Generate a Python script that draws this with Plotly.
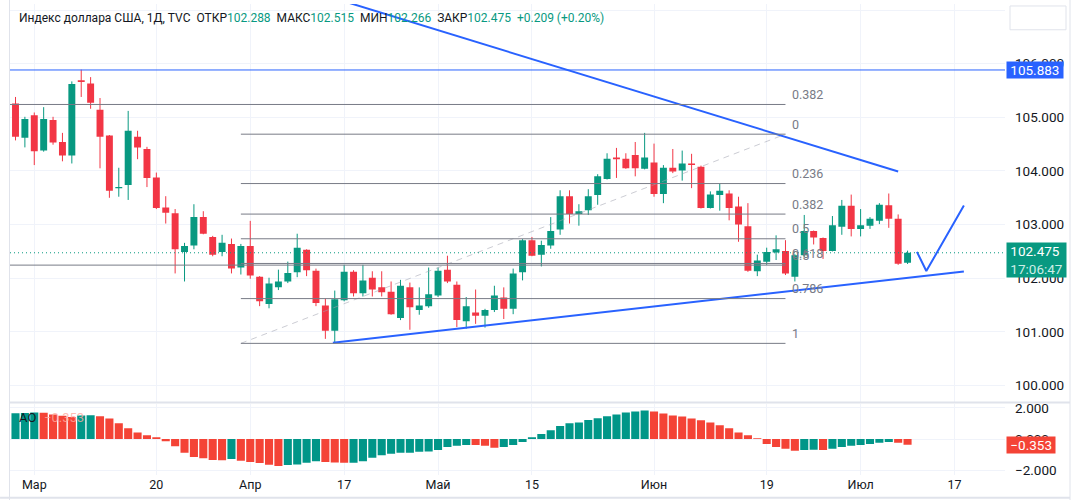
import plotly.graph_objects as go

# ---------------- data (US Dollar Index, daily, 27 Feb 2023 - 10 Jul 2023) ----------------
opens = [105.26, 104.62, 105.04, 104.38, 104.95, 104.54, 104.29, 105.69, 105.63, 105.14,
         104.66, 103.68, 103.74, 104.64, 104.41, 103.88, 103.32, 103.21, 102.49, 102.61,
         103.14, 102.77, 102.49, 102.64, 102.20, 102.60, 102.03, 101.52, 101.83, 101.94,
         102.11, 102.53, 102.14, 101.49, 101.02, 101.59, 102.12, 101.72, 102.01, 101.83,
         101.75, 101.26, 101.83, 101.41, 101.48, 101.68, 102.16, 101.88, 101.20, 101.36,
         101.30, 101.41, 101.64, 101.43, 102.11, 102.71, 102.44, 102.61, 102.91, 103.53,
         103.20, 103.27, 103.55, 103.85, 104.25, 104.23, 104.30, 104.04, 104.16, 103.57,
         104.06, 104.01, 104.14, 104.08, 103.31, 103.55, 103.58, 103.34, 102.97, 102.13,
         102.31, 102.48, 102.51, 102.03, 102.43, 102.88, 102.75, 102.51, 102.96, 103.35,
         102.92, 102.98, 103.07, 103.36, 103.11, 102.288]
highs = [105.38, 105.01, 105.09, 105.19, 105.01, 104.71, 105.67, 105.89, 105.75, 105.36,
         104.67, 104.06, 105.12, 104.75, 104.45, 103.97, 103.53, 103.29, 102.66, 103.38,
         103.25, 102.79, 102.81, 102.74, 102.64, 103.07, 102.04, 102.01, 102.16, 102.31,
         102.83, 102.54, 102.18, 101.62, 101.77, 102.25, 102.15, 102.25, 102.13, 102.13,
         101.94, 101.97, 101.92, 101.83, 102.20, 102.20, 102.42, 101.94, 101.65, 101.79,
         101.43, 101.86, 101.83, 102.18, 102.73, 102.77, 102.70, 103.14, 103.64, 103.64,
         103.38, 103.66, 103.94, 104.33, 104.43, 104.33, 104.54, 104.71, 104.51, 104.11,
         104.41, 104.38, 104.32, 104.10, 103.62, 103.76, 103.64, 103.52, 103.40, 102.44,
         102.57, 102.80, 102.71, 102.45, 103.18, 102.89, 102.76, 103.16, 103.46, 103.56,
         103.29, 103.14, 103.40, 103.58, 103.19, 102.515]
lows = [104.57, 104.44, 104.11, 104.36, 104.49, 104.18, 104.14, 105.38, 105.16, 104.05,
        103.50, 103.52, 103.46, 104.22, 103.70, 103.29, 103.02, 102.09, 101.94, 102.54,
        102.82, 102.41, 102.41, 102.09, 102.07, 101.99, 101.48, 101.44, 101.78, 101.91,
        102.02, 102.04, 101.48, 100.87, 100.80, 101.57, 101.66, 101.66, 101.66, 101.66,
        101.32, 101.22, 101.04, 101.32, 101.45, 101.65, 101.91, 101.09, 101.06, 101.15,
        101.08, 101.37, 101.24, 101.33, 101.96, 102.41, 102.22, 102.55, 102.81, 103.02,
        102.98, 103.18, 103.37, 103.84, 103.87, 104.04, 103.90, 104.03, 103.52, 103.40,
        103.96, 103.82, 103.68, 103.30, 103.30, 103.26, 103.08, 102.68, 102.12, 102.04,
        102.25, 102.34, 102.06, 101.94, 102.40, 102.63, 102.36, 102.50, 102.81, 102.78,
        102.78, 102.92, 103.01, 102.94, 102.25, 102.266]
closes = [104.64, 104.97, 104.37, 104.97, 104.53, 104.29, 105.62, 105.66, 105.27, 104.64,
          103.63, 103.70, 104.75, 104.44, 103.87, 103.31, 103.22, 102.54, 102.60, 103.14,
          102.83, 102.44, 102.66, 102.18, 102.60, 102.05, 101.57, 101.90, 101.94, 102.10,
          102.57, 102.15, 101.54, 101.02, 101.61, 102.12, 101.72, 101.96, 101.79, 101.74,
          101.33, 101.86, 101.46, 101.49, 101.70, 102.14, 101.94, 101.22, 101.48, 101.30,
          101.41, 101.68, 101.43, 102.09, 102.71, 102.42, 102.62, 102.88, 103.53, 103.20,
          103.25, 103.53, 103.90, 104.23, 104.22, 104.05, 104.05, 104.25, 103.57, 104.06,
          103.99, 104.14, 104.11, 103.31, 103.56, 103.63, 103.31, 103.00, 102.14, 102.33,
          102.49, 102.54, 102.09, 102.43, 102.88, 102.76, 102.51, 102.99, 103.35, 102.92,
          102.99, 103.11, 103.37, 103.11, 102.27, 102.475]
ao_values = [1.66, 1.67, 1.70, 1.68, 1.58, 1.49, 1.41, 1.51, 1.53, 1.47,
             1.32, 1.01, 0.69, 0.43, 0.24, 0.12, -0.14, -0.46, -0.88, -1.15,
             -1.22, -1.34, -1.35, -1.28, -1.39, -1.47, -1.53, -1.64, -1.72, -1.65,
             -1.62, -1.51, -1.41, -1.46, -1.50, -1.52, -1.51, -1.41, -1.20, -1.03,
             -0.94, -0.88, -0.87, -0.81, -0.80, -0.69, -0.50, -0.43, -0.37, -0.38,
             -0.43, -0.56, -0.50, -0.37, -0.18, 0.12, 0.33, 0.56, 0.84, 1.01,
             1.07, 1.22, 1.34, 1.47, 1.58, 1.70, 1.77, 1.83, 1.77, 1.64,
             1.51, 1.45, 1.32, 1.20, 1.07, 0.88, 0.69, 0.43, 0.24, 0.05,
             -0.31, -0.50, -0.62, -0.75, -0.69, -0.68, -0.70, -0.62, -0.50, -0.43,
             -0.37, -0.31, -0.24, -0.18, -0.24, -0.353]

tick_index = [2, 15, 25, 35, 45, 55, 68, 80, 90, 100]
tick_text = ["Мар", "20", "Апр", "17", "Май", "15", "Июн", "19", "Июл", "17"]
price_ticks = [100, 101, 102, 103, 104, 105, 106, 107]
ao_ticks = [-2, 0, 2]

# drawings
resistance_level = 105.883
last_price = 102.475
fib_high, fib_low = 104.686, 100.786
fib_start, fib_end = 24, 82
fib_levels = [0, 0.236, 0.382, 0.5, 0.618, 0.786, 1]
extra_fib_prices = [105.24, 102.245]
extra_fib_labels = ["0.382", "0.5"]
down_trend_x = [33, 94]
down_trend_y = [107.27, 103.99]
up_trend_x = [33.8, 101]
up_trend_y = [100.797, 102.128]
v_path_x = [96, 97, 101]
v_path_y = [102.492, 102.135, 103.355]

UP = "#089981"
DN = "#F23645"
AO_UP = "#009688"
AO_DN = "#F44336"
BLUE = "#2962FF"
FIB = "#787B86"
GRID = "#f0f3fa"
TXT = "#131722"
FONT = "Roboto"

n = len(opens)
idx = list(range(n))

fig = go.Figure()

for is_up, col in ((True, UP), (False, DN)):
    sel = [i for i in idx if (closes[i] >= opens[i]) == is_up]
    wx, wy = [], []
    for i in sel:
        wx += [i, i, None]
        wy += [lows[i], highs[i], None]
    fig.add_trace(go.Scatter(x=wx, y=wy, mode="lines", line=dict(color=col, width=1),
                             hoverinfo="skip", xaxis="x", yaxis="y"))
    fig.add_trace(go.Bar(x=sel,
                         base=[min(opens[i], closes[i]) for i in sel],
                         y=[max(abs(closes[i] - opens[i]), 0.018) for i in sel],
                         width=0.74, marker=dict(color=col, line=dict(width=0)),
                         hoverinfo="skip", xaxis="x", yaxis="y"))

# AO histogram
ao_colors = [AO_UP] + [AO_UP if ao_values[i] >= ao_values[i - 1] else AO_DN for i in range(1, n)]
fig.add_trace(go.Bar(x=idx, y=ao_values, width=0.86,
                     marker=dict(color=ao_colors, line=dict(width=0)),
                     hoverinfo="skip", xaxis="x2", yaxis="y2"))

# fib diagonal
fig.add_trace(go.Scatter(x=[fib_start, fib_end], y=[fib_low, fib_high], mode="lines",
                         line=dict(color="rgba(160,163,175,0.55)", width=1, dash="6px,5px"),
                         hoverinfo="skip", xaxis="x", yaxis="y"))

shapes = []
annotations = []
fib_range = fib_high - fib_low
for lv in fib_levels:
    p = fib_high - lv * fib_range
    shapes.append(dict(type="line", xref="x", yref="y", x0=fib_start, x1=fib_end, y0=p, y1=p,
                       line=dict(color=FIB, width=1), layer="above"))
    lbl = "0" if lv == 0 else ("1" if lv == 1 else str(lv))
    annotations.append(dict(x=fib_end, y=p, xref="x", yref="y", text=lbl, showarrow=False,
                            xanchor="left", yanchor="middle", xshift=5, yshift=10,
                            font=dict(color=FIB, size=12.5, family=FONT)))
for p, lbl in zip(extra_fib_prices, extra_fib_labels):
    shapes.append(dict(type="line", xref="x", yref="y", x0=-2, x1=fib_end, y0=p, y1=p,
                       line=dict(color=FIB, width=1), layer="above"))
    annotations.append(dict(x=fib_end, y=p, xref="x", yref="y", text=lbl, showarrow=False,
                            xanchor="left", yanchor="middle", xshift=5, yshift=10,
                            font=dict(color=FIB, size=12.5, family=FONT)))

# horizontal resistance & last price line
shapes.append(dict(type="line", xref="x domain", yref="y", x0=0, x1=1,
                   y0=resistance_level, y1=resistance_level, line=dict(color=BLUE, width=1)))
shapes.append(dict(type="line", xref="x domain", yref="y", x0=0, x1=1,
                   y0=last_price, y1=last_price, line=dict(color=UP, width=1, dash="1px,3px")))

# trend lines
for xs, ys in ((down_trend_x, down_trend_y), (up_trend_x, up_trend_y), (v_path_x, v_path_y)):
    fig.add_trace(go.Scatter(x=xs, y=ys, mode="lines", line=dict(color=BLUE, width=2),
                             hoverinfo="skip", xaxis="x", yaxis="y"))

# frame lines
pane_sep = (475 - 402) / 475
right_edge = (1070 - 10) / 995
shapes += [
    dict(type="line", xref="paper", yref="paper", x0=0, x1=right_edge, y0=pane_sep, y1=pane_sep,
         line=dict(color="#e0e3eb", width=2)),
    dict(type="line", xref="paper", yref="paper", x0=-0.0005, x1=-0.0005, y0=-0.06, y1=1.01,
         line=dict(color="#e0e3eb", width=1)),
    dict(type="line", xref="paper", yref="paper", x0=right_edge, x1=right_edge, y0=-0.06, y1=1.01,
         line=dict(color="#e0e3eb", width=1)),
    dict(type="line", xref="paper", yref="paper", x0=-0.01, x1=right_edge, y0=(475 - 498) / 475,
         y1=(475 - 498) / 475, line=dict(color="#e0e3eb", width=2)),
    dict(type="rect", xref="paper", yref="paper", x0=(1010 - 10) / 995, x1=(1066 - 10) / 995,
         y0=(475 - 26) / 475, y1=(475 - 2) / 475, fillcolor="white",
         line=dict(color="#e0e3eb", width=1), layer="above"),
]

# price-scale labels
annotations += [
    dict(x=1, xref="paper", y=resistance_level, yref="y", xanchor="left", xshift=1,
         text="&nbsp;105.883&nbsp;", showarrow=False, bgcolor=BLUE, borderpad=0,
         font=dict(color="white", size=13.5, family=FONT)),
    dict(x=1, xref="paper", y=last_price, yref="y", xanchor="left", xshift=1, yshift=-7,
         text="&nbsp;102.475&nbsp;<br><span style='color:#cdeee7'>&nbsp;17:06:47&nbsp;</span>",
         showarrow=False, bgcolor=UP, borderpad=0, align="left",
         font=dict(color="white", size=13.5, family=FONT)),
    dict(x=1, xref="paper", y=ao_values[-1], yref="y2", xanchor="left", xshift=1,
         text="&nbsp;−0.353&nbsp;", showarrow=False, bgcolor=AO_DN, borderpad=0,
         font=dict(color="white", size=13.5, family=FONT)),
]

# header
g = UP
header = (f"<span style='color:{TXT}'>Индекс доллара США, 1Д, TVC&nbsp;&nbsp;ОТКР</span>"
          f"<span style='color:{g}'>102.288</span><span style='color:{TXT}'>&nbsp;&nbsp;МАКС</span>"
          f"<span style='color:{g}'>102.515</span><span style='color:{TXT}'>&nbsp;&nbsp;МИН</span>"
          f"<span style='color:{g}'>102.266</span><span style='color:{TXT}'>&nbsp;&nbsp;ЗАКР</span>"
          f"<span style='color:{g}'>102.475&nbsp;&nbsp;+0.209 (+0.20%)</span>")
annotations.append(dict(x=0, xref="paper", y=1, yref="paper", xanchor="left", yanchor="middle",
                        xshift=7, yshift=-14, text=header, showarrow=False,
                        font=dict(size=12, family=FONT, color=TXT)))
annotations.append(dict(x=0, xref="paper", y=1, yref="y2 domain", xanchor="left", yanchor="middle",
                        xshift=7, yshift=-14, text="AO", showarrow=False,
                        font=dict(size=13, family=FONT, color=TXT)))
annotations.append(dict(x=0, xref="paper", y=1, yref="y2 domain", xanchor="left", yanchor="middle",
                        xshift=32, yshift=-14, text="−0.353", showarrow=False,
                        font=dict(size=13, family=FONT, color="rgba(255,170,160,0.8)")))

x_range = [(10 - 15.5) / 9.39, (1005 - 15.5) / 9.39]
axis_common = dict(range=x_range, tickvals=tick_index, ticktext=tick_text, showgrid=True,
                   gridcolor=GRID, zeroline=False, showline=False, ticks="", fixedrange=True)

fig.update_layout(
    width=1077, height=500,
    margin=dict(l=10, r=72, t=0, b=25),
    paper_bgcolor="white", plot_bgcolor="white",
    showlegend=False, barmode="overlay",
    xaxis=dict(domain=[0, 1], anchor="y", showticklabels=False, **axis_common),
    xaxis2=dict(domain=[0, 1], anchor="y2", matches="x", showticklabels=True,
                tickfont=dict(size=12.5, family=FONT, color=TXT), **axis_common),
    yaxis=dict(domain=[(475 - 401) / 475, 1], range=[99.700, 107.113], side="right",
               tickvals=price_ticks, tickformat=".3f", showgrid=True, gridcolor=GRID,
               zeroline=False, ticks="", ticklabelstandoff=9,
               tickfont=dict(size=13.5, family=FONT, color=TXT)),
    yaxis2=dict(domain=[0, (475 - 403) / 475], range=[-2.298, 2.273], side="right",
                tickvals=ao_ticks, tickformat=".3f", showgrid=True, gridcolor=GRID,
                zeroline=False, ticks="", ticklabelstandoff=9,
                tickfont=dict(size=13.5, family=FONT, color=TXT)),
    shapes=shapes, annotations=annotations,
)

fig.write_html("out.html", config={"displayModeBar": False, "staticPlot": True},
               post_script="document.body.style.margin='0px';document.body.style.overflow='hidden';")
